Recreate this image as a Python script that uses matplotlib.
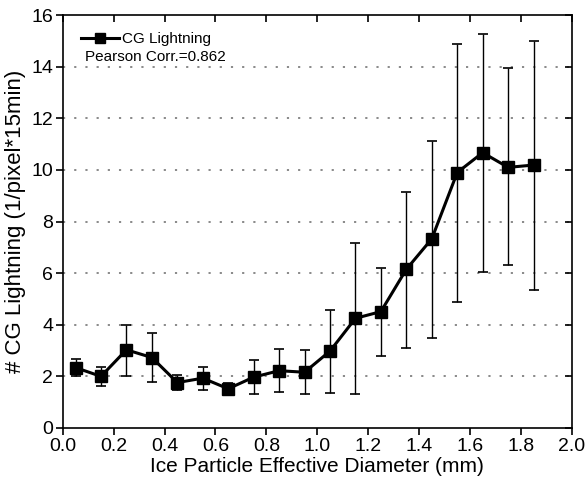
import matplotlib.pyplot as plt
import numpy as np

plt.rcParams['font.family'] = ['Liberation Sans', 'DejaVu Sans']

# bin centres of ice particle effective diameter (mm)
diam = [0.05, 0.15, 0.25, 0.35, 0.45, 0.55, 0.65, 0.75, 0.85, 0.95,
        1.05, 1.15, 1.25, 1.35, 1.45, 1.55, 1.65, 1.75, 1.85]
cg_mean = [2.34, 2.0, 3.03, 2.73, 1.76, 1.93, 1.52, 1.97, 2.22, 2.16,
           2.98, 4.25, 4.51, 6.15, 7.33, 9.9, 10.67, 10.1, 10.19]
cg_upper = [2.68, 2.37, 4.0, 3.67, 2.06, 2.37, 1.74, 2.64, 3.06, 3.02,
            4.57, 7.18, 6.21, 9.16, 11.12, 14.88, 15.27, 13.94, 15.01]
cg_lower = [2.02, 1.64, 2.02, 1.8, 1.46, 1.46, 1.33, 1.33, 1.38, 1.32,
            1.37, 1.32, 2.79, 3.09, 3.5, 4.9, 6.05, 6.3, 5.35]

y = np.array(cg_mean)
yerr = [y - np.array(cg_lower), np.array(cg_upper) - y]

fig = plt.figure(figsize=(5.87, 4.88), dpi=100)
ax = fig.add_axes([0.107, 0.123, 0.867, 0.846])

ax.errorbar(diam, y, yerr=yerr, fmt='none', ecolor='black',
            elinewidth=1.0, capsize=3.5, capthick=1.2, zorder=2)
ax.plot(diam, y, color='black', linewidth=2.2, marker='s', markersize=8,
        label='CG Lightning', zorder=3)

ax.set_xlim(0, 2.0)
ax.set_ylim(0, 16)
ax.set_xticks(np.arange(0, 2.01, 0.2))
ax.set_xticklabels([f'{v:.1f}' for v in np.arange(0, 2.01, 0.2)])
ax.set_yticks(np.arange(0, 17, 2))

for yv in range(2, 15, 2):
    ax.axhline(yv, color='gray', linestyle=(0, (1.2, 5)), linewidth=1.3,
               zorder=1)

ax.tick_params(axis='both', which='major', labelsize=14, direction='out',
               length=5, width=1.2, pad=2)
ax.tick_params(top=True, right=True)
# top and right ticks point inward
for t in ax.xaxis.get_major_ticks():
    t.tick2line.set_marker(3)
for t in ax.yaxis.get_major_ticks():
    t.tick2line.set_marker(0)
for s in ax.spines.values():
    s.set_linewidth(1.2)

ax.set_xlabel('Ice Particle Effective Diameter (mm)', fontsize=15, labelpad=2)
ax.set_ylabel('# CG Lightning (1/pixel*15min)', fontsize=16, labelpad=4)

ax.legend(loc='upper left', frameon=False, fontsize=11, handlelength=2.5,
          borderaxespad=0.3, handletextpad=0.15, markerscale=0.85,
          bbox_to_anchor=(0.015, 0.985))
ax.text(0.043, 0.898, 'Pearson Corr.=0.862', transform=ax.transAxes,
        fontsize=11, va='center')

fig.savefig('out.png', dpi=100)
